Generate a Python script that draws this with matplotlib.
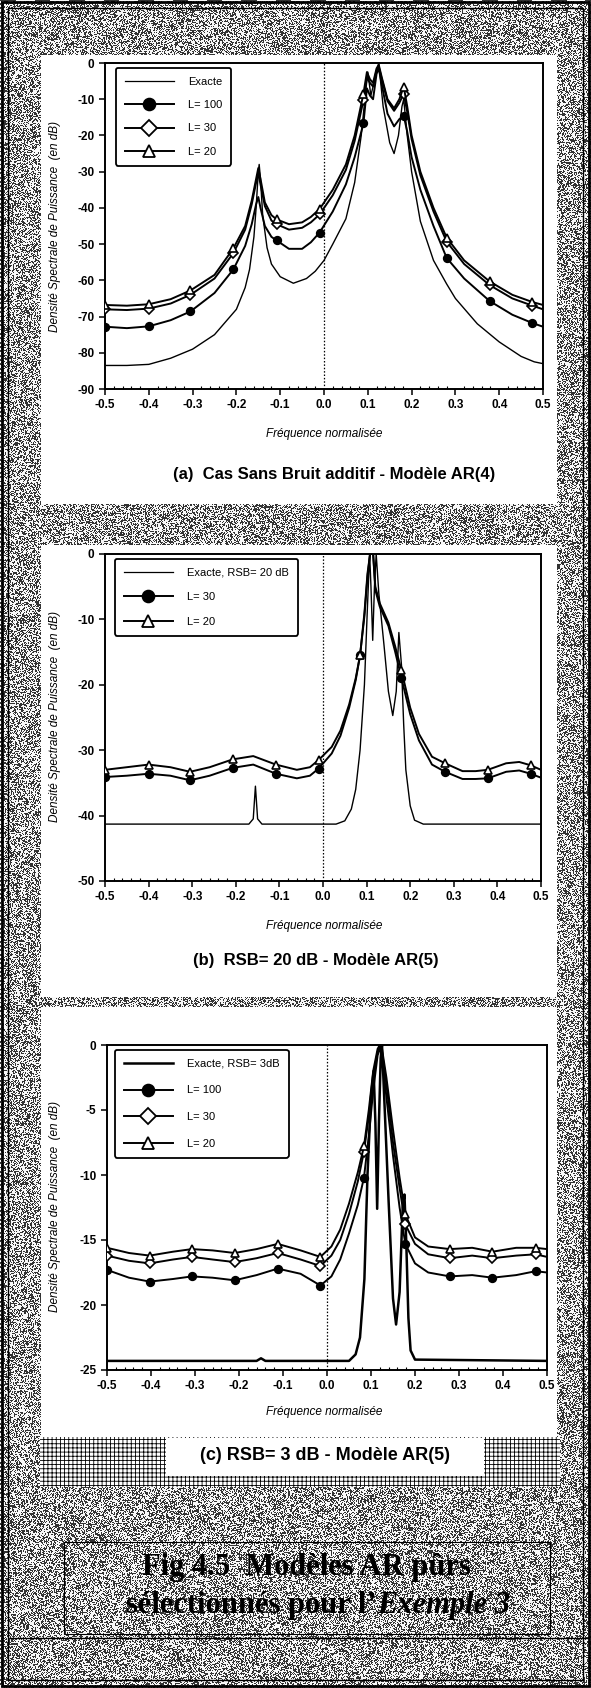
import numpy as np
import matplotlib
matplotlib.use("Agg")
import matplotlib.pyplot as plt
from matplotlib.patches import Rectangle
from matplotlib.lines import Line2D

plt.rcParams["font.family"] = ["Liberation Sans", "DejaVu Sans"]
plt.rcParams["axes.unicode_minus"] = False
plt.rcParams["hatch.linewidth"] = 0.6

# ---------------- data ----------------
xticks = [-0.5, -0.4, -0.3, -0.2, -0.1, 0.0, 0.1, 0.2, 0.3, 0.4, 0.5]
xtick_labels = ["-0.5", "-0.4", "-0.3", "-0.2", "-0.1", "0.0", "0.1", "0.2", "0.3", "0.4", "0.5"]

# panel (a) : sans bruit, AR(4)
a_mark_x = [-0.5, -0.4, -0.305, -0.207, -0.108, -0.01, 0.09, 0.182, 0.28, 0.378, 0.476]
a_x = [-0.5, -0.45, -0.4, -0.35, -0.305, -0.25, -0.207, -0.18, -0.165, -0.155, -0.15, -0.145,
       -0.135, -0.12, -0.108, -0.08, -0.05, -0.03, -0.01, 0.02, 0.05, 0.07, 0.09, 0.098, 0.105,
       0.112, 0.12, 0.125, 0.132, 0.145, 0.16, 0.172, 0.182, 0.19, 0.2, 0.22, 0.25, 0.28, 0.32,
       0.378, 0.43, 0.476, 0.5]
a_L20 = [-66.8, -67.0, -66.6, -65.2, -62.8, -58.5, -51.2, -45, -38, -32, -29, -32,
         -38.5, -42, -43.2, -44.5, -44, -42.5, -40.3, -35, -28, -20, -8.5, -2.5, -4.5,
         -5.5, -1.5, -0.5, -4, -10, -12.5, -10, -6.5, -12, -20, -30, -40, -48.2, -54.5,
         -60.3, -64, -66, -66.8]
a_L30 = [-68, -68.2, -67.8, -66.4, -64, -59.5, -52.5, -46, -39, -33, -30.5, -33.5,
         -39.5, -43.5, -44.5, -46, -45.5, -44, -41.8, -36.5, -29.5, -21.5, -10.3, -4, -5.5,
         -6.5, -2, -1, -4.5, -10.5, -13.2, -11, -8.5, -13.5, -21, -31, -41, -49.3, -55.5,
         -61.3, -65, -67, -68]
a_L100 = [-72.8, -73.2, -72.7, -71, -68.6, -63.5, -57, -50.5, -44.5, -39, -37, -40,
          -45, -48, -49, -51.3, -51.3, -49.5, -46.8, -41, -33.5, -26, -16.7, -7, -9,
          -10, -3, -1.5, -6, -14, -17.5, -15.5, -14.5, -19, -26, -35, -45, -53.8, -59.5,
          -65.7, -69.5, -71.8, -72.8]
a_ex_x = [-0.5, -0.45, -0.4, -0.35, -0.3, -0.25, -0.2, -0.18, -0.17, -0.16, -0.155, -0.15,
          -0.148, -0.145, -0.14, -0.13, -0.12, -0.1, -0.07, -0.04, -0.02, 0.0, 0.02, 0.05,
          0.07, 0.085, 0.095, 0.1, 0.107, 0.113, 0.125, 0.135, 0.15, 0.16, 0.17, 0.178,
          0.182, 0.19, 0.2, 0.22, 0.25, 0.28, 0.3, 0.35, 0.4, 0.45, 0.48, 0.5]
a_ex_y = [-83.5, -83.5, -83.2, -81.5, -79, -75, -68, -62, -57, -48, -40, -30,
          -28, -32, -42, -51, -55.5, -59, -60.8, -59.5, -57.5, -54.5, -50, -43,
          -33, -20, -8, -2.5, -9, -6, 0, -12, -22, -25, -20, -12,
          -10, -20, -30, -43.7, -54.5, -61, -65, -72, -77, -81, -82.5, -83]

# panel (b) : RSB = 20 dB, AR(5)
b_mark_x = [-0.5, -0.4, -0.305, -0.207, -0.108, -0.01, 0.085, 0.18, 0.28, 0.378, 0.476]
b_x = [-0.5, -0.45, -0.4, -0.35, -0.305, -0.26, -0.207, -0.16, -0.108, -0.06, -0.03, -0.01,
       0.02, 0.04, 0.06, 0.075, 0.085, 0.095, 0.102, 0.108, 0.115, 0.12, 0.13, 0.15, 0.165,
       0.18, 0.2, 0.22, 0.25, 0.28, 0.32, 0.35, 0.378, 0.42, 0.45, 0.476, 0.5]
b_L20 = [-33.0, -32.6, -32.2, -32.6, -33.3, -32.6, -31.4, -30.9, -32.2, -33.0, -32.6, -31.5,
         -29.5, -27, -23, -19, -15.5, -9, -3, 0, 0, -5, -7.5, -10.5, -14,
         -17.8, -23.5, -27.5, -31, -32.0, -33.2, -33.2, -33.0, -32, -31.8, -32.3, -33.0]
b_L30 = [-34.1, -33.9, -33.6, -33.9, -34.6, -33.9, -32.7, -32.2, -33.6, -34.3, -33.9, -32.8,
         -30.5, -27.8, -23.5, -19.3, -15.5, -9.5, -3.5, 0, 0, -5.5, -8, -11, -14.8,
         -19.0, -24.5, -28.5, -32.2, -33.3, -34.4, -34.4, -34.3, -33.3, -33.1, -33.6, -34.2]
b_ex_x = [-0.5, -0.17, -0.16, -0.155, -0.15, -0.14, 0.03, 0.05, 0.065, 0.075, 0.085, 0.095,
          0.102, 0.107, 0.11, 0.114, 0.118, 0.122, 0.128, 0.14, 0.15, 0.16, 0.168, 0.174,
          0.18, 0.185, 0.19, 0.2, 0.21, 0.23, 0.5]
b_ex_y = [-41.3, -41.3, -40.5, -35.5, -40.5, -41.3, -41.3, -40.8, -39, -36, -30, -20,
          -8, 0, -5, -13.2, -5, 0, -6, -14, -21, -24.7, -21, -12,
          -17, -26, -33, -38.5, -40.7, -41.3, -41.3]

# panel (c) : RSB = 3 dB, AR(5)
c_mark_x = [-0.5, -0.403, -0.307, -0.21, -0.112, -0.015, 0.084, 0.178, 0.279, 0.376, 0.474]
c_x = [-0.5, -0.45, -0.403, -0.35, -0.307, -0.26, -0.21, -0.16, -0.112, -0.06, -0.015, 0.01,
       0.03, 0.05, 0.07, 0.084, 0.095, 0.105, 0.115, 0.12, 0.125, 0.135, 0.15, 0.165, 0.178,
       0.2, 0.23, 0.279, 0.33, 0.376, 0.43, 0.474, 0.5]
c_L100 = [-17.3, -17.9, -18.2, -18.0, -17.8, -17.9, -18.1, -17.7, -17.2, -17.6, -18.5, -17.8,
          -16.5, -14.5, -12.3, -10.2, -7, -3.5, -0.8, -0.3, -0.8, -4, -8.5, -12.5, -15.3,
          -16.8, -17.5, -17.8, -17.7, -17.9, -17.7, -17.4, -17.5]
c_L30 = [-16.2, -16.6, -16.8, -16.5, -16.3, -16.5, -16.7, -16.4, -16.0, -16.5, -17.0, -16.2,
         -15, -13, -10.5, -8.2, -5.5, -2.5, -0.5, -0.2, -0.5, -3, -7.5, -11, -13.8,
         -15.3, -16.1, -16.4, -16.2, -16.4, -16.2, -16.1, -16.3]
c_L20 = [-15.6, -16.0, -16.2, -15.9, -15.7, -15.8, -16.0, -15.7, -15.3, -15.8, -16.3, -15.5,
         -14.2, -12.2, -9.8, -7.8, -5, -2, -0.3, 0, -0.3, -2.5, -6.5, -10.2, -13.0,
         -14.8, -15.5, -15.7, -15.6, -15.9, -15.6, -15.6, -15.7]
c_ex_x = [-0.5, -0.16, -0.15, -0.14, 0.05, 0.065, 0.075, 0.085, 0.092, 0.1, 0.106, 0.11,
          0.114, 0.118, 0.122, 0.125, 0.13, 0.14, 0.15, 0.157, 0.165, 0.172, 0.176, 0.18,
          0.185, 0.19, 0.2, 0.5]
c_ex_y = [-24.3, -24.3, -24.1, -24.3, -24.3, -23.8, -22.5, -18, -10, -4, -2, -6,
          -12.6, -6, -1, 0, -4, -12, -19.5, -21.5, -19, -12.5, -11.5, -15,
          -21, -23.5, -24.2, -24.3]

# ---------------- figure ----------------
W, H = 591, 1688
fig = plt.figure(figsize=(W / 100, H / 100), dpi=100)


def fx(px):
    return px / W


def fy(py):
    return 1 - py / H


def frect(x0, y0, x1, y1, **kw):
    r = Rectangle((fx(x0), fy(y1)), (x1 - x0) / W, (y1 - y0) / H,
                  transform=fig.transFigure, figure=fig, **kw)
    fig.patches.append(r)
    return r


# halftone-like grey background of the scan (deterministic hash dither)
bg = fig.add_axes([0, 0, 1, 1], zorder=-10)
yy, xx = np.indices((H, W)).astype(np.uint64)
h = (xx * np.uint64(73856093)) ^ (yy * np.uint64(19349663)) ^ (xx * yy * np.uint64(83492791))
dots = ((h >> np.uint64(5)) % np.uint64(100)) < 45
bg.imshow(np.where(dots, 0.2, 0.97), cmap="gray", vmin=0, vmax=1,
          interpolation="nearest", aspect="auto")
bg.axis("off")

# white panel boxes
for (y0, y1) in [(55, 504), (545, 997), (1007, 1437)]:
    frect(41, y0, 557, y1, facecolor="white", edgecolor="none", zorder=-5)

# hatched strip + white box for title (c)
frect(40, 1437, 560, 1487, facecolor="white", edgecolor="black", hatch="++++",
      lw=0, zorder=-5)
frect(166, 1438, 484, 1476, facecolor="white", edgecolor="none", zorder=-4)

# outer double frame
frect(2, 2, 589, 1686, facecolor="none", edgecolor="black", lw=2.0, zorder=5)
frect(8, 8, 583, 1680, facecolor="none", edgecolor="black", lw=1.0, zorder=5)
# caption frame
frect(64, 1542, 550, 1634, facecolor="none", edgecolor="black", lw=0.8, zorder=5)
fig.lines.append(Line2D([fx(10), fx(588)], [fy(1638), fy(1638)], color="black",
                        lw=1.0, transform=fig.transFigure, figure=fig))


def curve(ax, x, y, mark_x, marker, mfc, label):
    idx = [int(np.argmin(np.abs(np.array(x) - m))) for m in mark_x]
    ax.plot(x, y, color="black", lw=1.4, marker=marker, markevery=idx, ms=5.5,
            mfc=mfc, mec="black", mew=1.2, zorder=3)
    return Line2D([], [], color="black", lw=1.4, marker=marker, ms=8.5, mfc=mfc,
                  mec="black", mew=1.3, label=label)


def setup(ax, ylim, yticks):
    ax.set_xlim(-0.5, 0.5)
    ax.set_ylim(*ylim)
    ax.set_xticks(xticks)
    ax.set_xticklabels(xtick_labels)
    ax.set_xticks(np.arange(-0.5, 0.501, 0.02), minor=True)
    ax.set_yticks(yticks)
    ax.set_yticklabels([str(v) for v in yticks])
    ax.tick_params(which="major", direction="out", length=4, width=1.1,
                   labelsize=8.5)
    ax.tick_params(which="minor", axis="x", direction="in", length=2.5, width=0.8)
    for lab in ax.get_xticklabels() + ax.get_yticklabels():
        lab.set_fontweight("bold")
    for s in ax.spines.values():
        s.set_linewidth(1.4)
    ax.axvline(0.0, color="black", lw=0.9, ls=(0, (1.2, 1.5)), zorder=1)
    ax.set_facecolor("white")


def legend(ax, handles, anchor, spacing):
    leg = ax.legend(handles=handles, loc="upper left", bbox_to_anchor=anchor,
                    borderaxespad=0, fontsize=8, handlelength=4.4,
                    handletextpad=1.3, labelspacing=spacing, borderpad=0.8,
                    fancybox=True, framealpha=1, edgecolor="black")
    leg.get_frame().set_linewidth(1.3)


# ---- panel (a)
ax_a = fig.add_axes([fx(105), fy(389), 438 / W, 326 / H])
setup(ax_a, (-90, 0), list(range(0, -91, -10)))
h_ex = Line2D([], [], color="black", lw=0.9, label="Exacte")
ax_a.plot(a_ex_x, a_ex_y, color="black", lw=1.0, zorder=2)
h1 = curve(ax_a, a_x, a_L100, a_mark_x, "o", "black", "L= 100")
h2 = curve(ax_a, a_x, a_L30, a_mark_x, "D", "white", "L= 30")
h3 = curve(ax_a, a_x, a_L20, a_mark_x, "^", "white", "L= 20")
legend(ax_a, [h_ex, h1, h2, h3], (0.025, 0.985), 1.2)

# ---- panel (b)
ax_b = fig.add_axes([fx(105), fy(881), 436 / W, 327 / H])
setup(ax_b, (-50, 0), list(range(0, -51, -10)))
ax_b.plot(b_ex_x, b_ex_y, color="black", lw=1.0, zorder=2)
hb_ex = Line2D([], [], color="black", lw=0.9, label="Exacte, RSB= 20 dB")
hb1 = curve(ax_b, b_x, b_L30, b_mark_x, "o", "black", "L= 30")
hb2 = curve(ax_b, b_x, b_L20, b_mark_x, "^", "white", "L= 20")
legend(ax_b, [hb_ex, hb1, hb2], (0.023, 0.985), 1.3)

# ---- panel (c)
ax_c = fig.add_axes([fx(107), fy(1370), 440 / W, 325 / H])
setup(ax_c, (-25, 0), list(range(0, -26, -5)))
ax_c.plot(c_ex_x, c_ex_y, color="black", lw=1.8, zorder=2)
hc_ex = Line2D([], [], color="black", lw=1.8, label="Exacte, RSB= 3dB")
hc1 = curve(ax_c, c_x, c_L100, c_mark_x, "o", "black", "L= 100")
hc2 = curve(ax_c, c_x, c_L30, c_mark_x, "D", "white", "L= 30")
hc3 = curve(ax_c, c_x, c_L20, c_mark_x, "^", "white", "L= 20")
legend(ax_c, [hc_ex, hc1, hc2, hc3], (0.018, 0.985), 1.5)

# ---- texts
ylab = "Densité Spectrale de Puissance  (en dB)"
for yc in [226, 717, 1207]:
    fig.text(fx(55), fy(yc), ylab, rotation=90, ha="center", va="center",
             fontsize=8.5, style="italic")
for yc in [434, 926, 1412]:
    fig.text(fx(324), fy(yc), "Fréquence normalisée", ha="center", va="center",
             fontsize=8.5, style="italic")

fig.text(fx(334), fy(475), "(a)  Cas Sans Bruit additif - Modèle AR(4)",
         ha="center", va="center", fontsize=12, fontweight="bold")
fig.text(fx(316), fy(961), "(b)  RSB= 20 dB - Modèle AR(5)",
         ha="center", va="center", fontsize=12, fontweight="bold")
fig.text(fx(325), fy(1456), "(c) RSB= 3 dB - Modèle AR(5)",
         ha="center", va="center", fontsize=13, fontweight="bold", zorder=6)

serif = ["Liberation Serif", "DejaVu Serif"]
fig.text(fx(306), fy(1567), "Fig 4.5  Modèles AR pûrs", ha="center", va="center",
         fontsize=22, fontweight="bold", family=serif)
fig.text(fx(377), fy(1605), "sélectionnés pour l’", ha="right", va="center",
         fontsize=22, fontweight="bold", family=serif)
fig.text(fx(377), fy(1605), "Exemple 3", ha="left", va="center",
         fontsize=22, fontweight="bold", style="italic", family=serif)

fig.savefig("out.png", dpi=100)
